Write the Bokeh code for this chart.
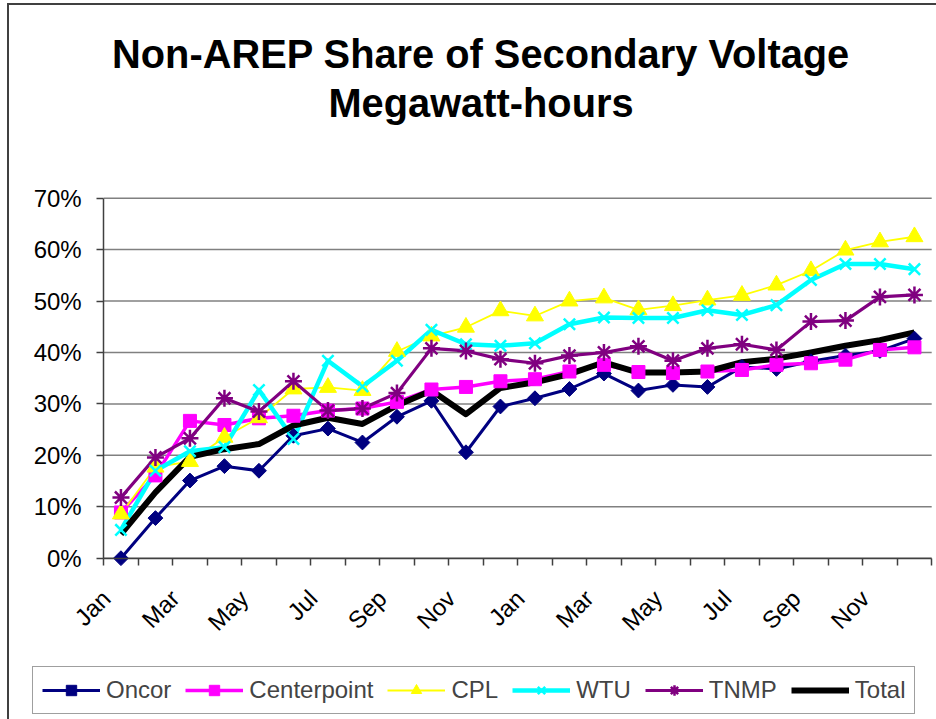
import math
from bokeh.plotting import figure
from bokeh.models import FixedTicker, NumeralTickFormatter, Range1d, Legend, LegendItem, Label
from bokeh.embed import file_html
from bokeh.resources import INLINE

# ---------------- data ----------------
months = ["Jan", "Feb", "Mar", "Apr", "May", "Jun", "Jul", "Aug", "Sep", "Oct", "Nov", "Dec",
          "Jan", "Feb", "Mar", "Apr", "May", "Jun", "Jul", "Aug", "Sep", "Oct", "Nov", "Dec"]
label_every = 2
y_ticks = [0.0, 0.1, 0.2, 0.3, 0.4, 0.5, 0.6, 0.7]

oncor = [0.0, 7.8, 15.1, 17.9, 17.0, 23.8, 25.2, 22.5, 27.5, 30.6, 20.6, 29.5,
         31.1, 32.9, 35.9, 32.6, 33.7, 33.3, 37.2, 36.8, 38.3, 39.4, 40.3, 42.7]
centerpoint = [8.9, 16.1, 26.7, 25.9, 27.2, 27.7, 28.7, 29.1, 30.4, 32.8, 33.3, 34.4,
               34.8, 36.3, 37.6, 36.2, 36.0, 36.3, 36.6, 37.6, 37.9, 38.6, 40.5, 41.0]
cpl = [8.6, 17.7, 18.8, 23.5, 27.3, 32.9, 33.2, 32.6, 40.2, 43.2, 44.9, 48.1,
       47.1, 50.0, 50.6, 48.3, 49.1, 50.2, 51.1, 53.1, 55.9, 59.9, 61.5, 62.5]
wtu = [5.5, 17.0, 20.8, 21.6, 32.7, 23.2, 38.4, 33.4, 38.4, 44.4, 41.6, 41.3,
       41.8, 45.5, 46.8, 46.7, 46.7, 48.2, 47.3, 49.2, 54.1, 57.2, 57.2, 56.2]
tnmp = [11.8, 19.6, 23.3, 31.1, 28.5, 34.4, 28.7, 29.1, 32.1, 40.8, 40.3, 38.7,
        37.9, 39.4, 40.0, 41.2, 38.4, 40.8, 41.6, 40.5, 46.0, 46.2, 50.8, 51.2]
total = [4.7, 12.8, 19.7, 21.2, 22.2, 25.8, 27.3, 26.1, 29.7, 32.6, 28.0, 33.1,
         34.2, 35.8, 38.1, 36.1, 36.1, 36.3, 38.1, 38.8, 40.0, 41.3, 42.4, 43.9]

series = [
    ("Oncor", oncor),
    ("Centerpoint", centerpoint),
    ("CPL", cpl),
    ("WTU", wtu),
    ("TNMP", tnmp),
    ("Total", total),
]

title_lines = ["Non-AREP Share of Secondary Voltage", "Megawatt-hours"]

# ---------------- styles ----------------
styles = {
    "Oncor": dict(color="#000080", lw=3, marker="square", size=10.5, angle=math.pi / 4, mlw=1),
    "Centerpoint": dict(color="#FF00FF", lw=3.5, marker="square", size=13, angle=0, mlw=1),
    "CPL": dict(color="#FFFF00", lw=1.8, marker="triangle", size=17, angle=0, mlw=1),
    "WTU": dict(color="#00FFFF", lw=4.5, marker="x", size=16, angle=0, mlw=2.5),
    "TNMP": dict(color="#800080", lw=3.2, marker="asterisk", size=17, angle=0, mlw=2.5),
    "Total": dict(color="#000000", lw=6, marker=None),
}

FONT = "Liberation Sans"
W, H = 936, 719
n = len(months)
xs = list(range(n))

# page geometry (pixels): the frame is the whole canvas, axes sit at fixed locations
PLOT_LEFT = 103.2      # x pixel of the left edge of the first category
CAT_W = 34.5           # pixels per category
ZERO_Y = 557.7         # y pixel of 0 %
PX_PER_UNIT = 514.3    # pixels per 100 %

x_start = -0.5 - PLOT_LEFT / CAT_W
x_end = x_start + W / CAT_W
y_start = -(H - ZERO_Y) / PX_PER_UNIT
y_end = y_start + H / PX_PER_UNIT

p = figure(width=W, height=H, output_backend="svg", toolbar_location=None,
           x_range=Range1d(x_start, x_end), y_range=Range1d(y_start, y_end),
           min_border=0, min_border_left=0, min_border_right=0,
           min_border_top=0, min_border_bottom=0,
           background_fill_alpha=0.0, border_fill_alpha=0.0)
p.outline_line_color = None
p.styles = {
    "background": "linear-gradient(#404040, #404040) 7px 4px / 2px 100% no-repeat, "
                  "linear-gradient(#404040, #404040) 7px 3px / 100% 2px no-repeat, white"
}

x_lo, x_hi = -0.5, n - 0.5

# horizontal gridlines across the plot area only
p.segment(x0=[x_lo] * len(y_ticks), x1=[x_hi] * len(y_ticks), y0=y_ticks, y1=y_ticks,
          line_color="#808080", line_width=1.5, level="underlay")
p.xgrid.visible = False
p.ygrid.visible = False

# lines first, then markers
line_r = {}
for name, vals in series:
    st = styles[name]
    ys = [v / 100.0 for v in vals]
    line_r[name] = p.line(xs, ys, line_color=st["color"], line_width=st["lw"], line_join="round")
marker_r = {}
for name, vals in series:
    st = styles[name]
    if st["marker"] is None:
        continue
    ys = [v / 100.0 for v in vals]
    marker_r[name] = p.scatter(xs, ys, marker=st["marker"], size=st["size"], angle=st["angle"],
                               fill_color=st["color"], line_color=st["color"], line_width=st["mlw"])

# x axis at 0 %: boundary tick marks (minor), labels nudged left like Excel's rotated labels
label_shift = 0.43
label_idx = list(range(0, n, label_every))
tick_pos = [i - label_shift for i in label_idx]
xa = p.xaxis[0]
xa.fixed_location = 0
xa.bounds = (x_lo, x_hi)
xa.ticker = FixedTicker(ticks=tick_pos, minor_ticks=[i - 0.5 for i in range(n + 1)])
xa.major_label_overrides = {t: months[i] for t, i in zip(tick_pos, label_idx)}
xa.major_tick_line_color = None
xa.major_tick_out = 0
xa.major_tick_in = 0
xa.minor_tick_out = 7
xa.minor_tick_in = 0
xa.minor_tick_line_color = "#404040"
xa.minor_tick_line_width = 1.5
xa.major_label_orientation = math.pi / 4
xa.major_label_standoff = 29

ya = p.yaxis[0]
ya.fixed_location = x_lo
ya.bounds = (y_ticks[0], y_ticks[-1])
ya.ticker = FixedTicker(ticks=y_ticks, minor_ticks=[])
ya.formatter = NumeralTickFormatter(format="0%")
ya.major_tick_out = 7
ya.major_tick_in = 0
ya.major_tick_line_color = "#404040"
ya.major_tick_line_width = 1.5
ya.major_label_standoff = 15

for ax in (xa, ya):
    ax.axis_line_color = "#404040"
    ax.axis_line_width = 1.5
    ax.major_label_text_font = FONT
    ax.major_label_text_font_size = "24px"
    ax.major_label_text_color = "black"

# title: two centred lines (screen units from the bottom-left of the canvas)
for txt, baseline_px in zip(title_lines, (53, 102)):
    p.add_layout(Label(x=480.5, y=H - baseline_px, x_units="screen", y_units="screen",
                       text=txt, text_font=FONT, text_font_style="bold",
                       text_font_size="39.8px", text_align="center",
                       text_baseline="alphabetic", text_color="black"))

# legend box below the axis labels
items = []
for name, _ in series:
    rs = [line_r[name]] + ([marker_r[name]] if name in marker_r else [])
    items.append(LegendItem(label=name, renderers=rs))
legend = Legend(items=items, location=(32, 5), orientation="horizontal",
                label_text_font=FONT, label_text_font_size="24px",
                glyph_width=58, glyph_height=26, label_standoff=6, spacing=14,
                padding=9, margin=0, label_height=28,
                border_line_color="#404040", border_line_width=1.5,
                background_fill_color="white", background_fill_alpha=1.0)
p.add_layout(legend)

open("out.html", "w").write(file_html(p, INLINE))
